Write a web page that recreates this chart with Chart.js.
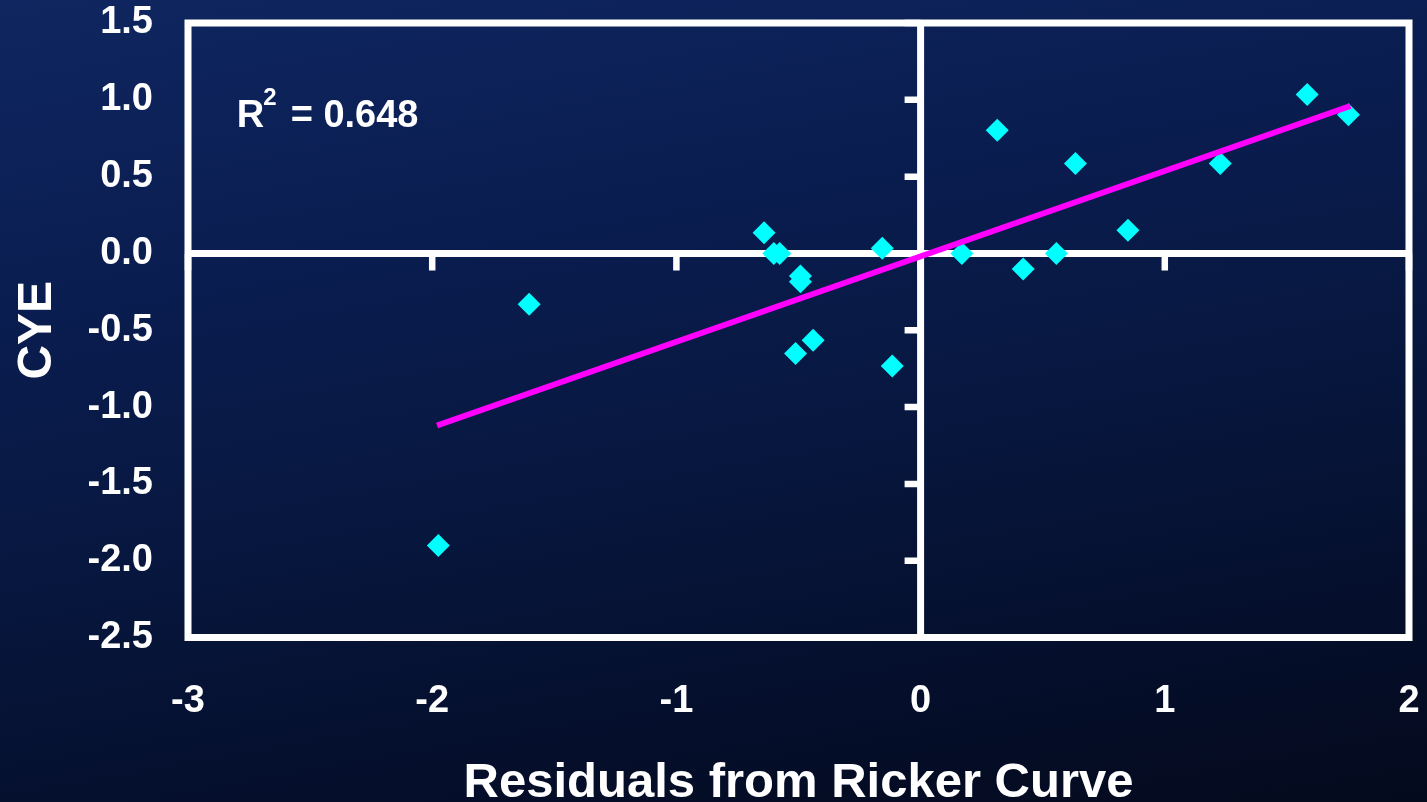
<!DOCTYPE html>
<html>
<head>
<meta charset="utf-8">
<script src="https://cdn.jsdelivr.net/npm/chart.js@4.4.1/dist/chart.umd.min.js"></script>
<style>
html, body { margin: 0; padding: 0; }
body {
    width: 1427px; height: 802px; overflow: hidden;
    background: linear-gradient(170deg, #0f2660 0%, #0a1d50 30%, #07173f 55%, #050f2c 80%, #040a1d 100%);
}
#wrap { position: relative; width: 1427px; height: 802px; }
</style>
</head>
<body>
<div id="wrap"><canvas id="myChart" width="1427" height="802"></canvas></div>
<script>
// residuals from Ricker curve (x) vs CYE (y)
var residuals = [-1.975, -1.603, -0.641, -0.601, -0.577, -0.492, -0.492, -0.512, -0.440, -0.157,
                 -0.116, 0.169, 0.314, 0.420, 0.556, 0.634, 0.849, 1.227, 1.583, 1.752];
var cye = [-1.901, -0.330, 0.135, 0.000, 0.000, -0.147, -0.184, -0.651, -0.565, 0.033,
           -0.732, 0.000, 0.802, -0.102, 0.000, 0.585, 0.151, 0.585, 1.035, 0.902];

// trend line end points
var trendX = [-1.98, 1.76];
var trendY = [-1.12, 0.96];

var xTicks = [-3, -2, -1, 0, 1, 2];
var yTicks = [1.5, 1.0, 0.5, 0.0, -0.5, -1.0, -1.5, -2.0, -2.5];

var rSquared = '0.648';
var rLabelAt = [-2.80, 0.824];

var FONT = '"Liberation Sans", Arial, sans-serif';
Chart.defaults.font.family = FONT;
Chart.defaults.color = '#ffffff';

var points = residuals.map(function (v, i) { return { x: v, y: cye[i] }; });
var trend = trendX.map(function (v, i) { return { x: v, y: trendY[i] }; });

// box round the plot + the axes crossing at zero with their little ticks
var crossAxes = {
    id: 'crossAxes',
    beforeDatasetsDraw: function (chart) {
        var ctx = chart.ctx, a = chart.chartArea;
        var xs = chart.scales.x, ys = chart.scales.y;
        var x0 = xs.getPixelForValue(0), y0 = ys.getPixelForValue(0);
        ctx.save();
        ctx.strokeStyle = '#ffffff';
        ctx.lineWidth = 7;
        ctx.lineJoin = 'miter';
        ctx.strokeRect(a.left, a.top, a.right - a.left, a.bottom - a.top);
        ctx.beginPath();
        ctx.moveTo(x0, a.top); ctx.lineTo(x0, a.bottom);
        ctx.moveTo(a.left, y0); ctx.lineTo(a.right, y0);
        ctx.stroke();
        ctx.lineWidth = 6.5;
        ctx.beginPath();
        yTicks.forEach(function (v) {
            var py = ys.getPixelForValue(v);
            ctx.moveTo(x0 - 16, py); ctx.lineTo(x0, py);
        });
        xTicks.forEach(function (v) {
            var px = xs.getPixelForValue(v);
            ctx.moveTo(px, y0); ctx.lineTo(px, y0 + 17);
        });
        ctx.stroke();
        ctx.restore();
    }
};

var rLabel = {
    id: 'rLabel',
    afterDatasetsDraw: function (chart) {
        var ctx = chart.ctx;
        var x = chart.scales.x.getPixelForValue(rLabelAt[0]);
        var y = chart.scales.y.getPixelForValue(rLabelAt[1]);
        ctx.save();
        ctx.fillStyle = '#ffffff';
        ctx.textAlign = 'left';
        ctx.textBaseline = 'alphabetic';
        ctx.font = 'bold 38px ' + FONT;
        ctx.fillText('R', x, y);
        var w = ctx.measureText('R').width - 1;
        ctx.font = 'bold 24px ' + FONT;
        ctx.fillText('2', x + w, y - 22);
        w += ctx.measureText('2').width + 14;
        ctx.font = 'bold 38px ' + FONT;
        ctx.fillText('= ' + rSquared, x + w, y);
        ctx.restore();
    }
};

var ctx = document.getElementById('myChart');
var myChart = new Chart(ctx, {
    type: 'scatter',
    data: {
        datasets: [{
            type: 'line',
            label: 'trend',
            data: trend,
            borderColor: '#ff00ff',
            borderWidth: 6,
            pointRadius: 0,
            fill: false,
            order: 0
        }, {
            label: 'CYE',
            data: points,
            pointStyle: 'rectRot',
            pointRadius: 11.5,
            pointHoverRadius: 11.5,
            backgroundColor: '#00ffff',
            borderColor: '#00ffff',
            borderWidth: 0,
            order: 1
        }]
    },
    options: {
        responsive: false,
        animation: false,
        devicePixelRatio: 1,
        layout: { padding: { top: 23, right: 18, bottom: 0, left: 0 } },
        plugins: {
            legend: { display: false },
            tooltip: { enabled: false }
        },
        scales: {
            x: {
                type: 'linear',
                min: -3,
                max: 2,
                afterBuildTicks: function (s) { s.ticks = xTicks.map(function (v) { return { value: v }; }); },
                afterFit: function (s) {
                    s.height = 164.5;
                    s.paddingLeft = 0; s.paddingRight = 0;
                    s.paddingTop = 0; s.paddingBottom = 0;
                },
                grid: { display: false, drawTicks: false },
                border: { display: false },
                ticks: {
                    padding: 41,
                    maxRotation: 0,
                    font: { size: 38, weight: 'bold' },
                    callback: function (v) { return String(v); }
                },
                title: {
                    display: true,
                    text: 'Residuals from Ricker Curve',
                    font: { size: 49, weight: 'bold', lineHeight: 0.75 },
                    padding: 0
                }
            },
            y: {
                type: 'linear',
                min: -2.5,
                max: 1.5,
                afterBuildTicks: function (s) { s.ticks = yTicks.map(function (v) { return { value: v }; }); },
                afterFit: function (s) {
                    s.width = 188;
                    s.paddingLeft = 0; s.paddingRight = 0;
                    s.paddingTop = 0; s.paddingBottom = 0;
                },
                grid: { display: false, drawTicks: false },
                border: { display: false },
                ticks: {
                    padding: 35,
                    font: { size: 38, weight: 'bold' },
                    callback: function (v) { return v.toFixed(1); }
                },
                title: {
                    display: true,
                    text: 'CYE',
                    font: { size: 48, weight: 'bold' },
                    padding: { top: 9, bottom: 0 }
                }
            }
        }
    },
    plugins: [crossAxes, rLabel]
});
</script>
</body>
</html>
